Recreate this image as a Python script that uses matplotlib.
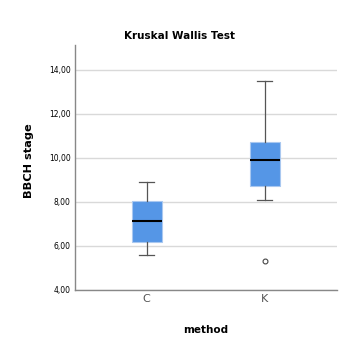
import matplotlib
matplotlib.use('Agg')
import matplotlib.pyplot as plt

# Box statistics
methods = ['C', 'K']
whisker_low = [5.59, 8.10]
q1 = [6.18, 8.73]
medians = [7.14, 9.91]
q3 = [8.06, 10.70]
whisker_high = [8.90, 13.51]
outliers = [[], [5.29]]

y_ticks = [4, 6, 8, 10, 12, 14]
y_tick_labels = ['4,00', '6,00', '8,00', '10,00', '12,00', '14,00']

stats = []
for i, m in enumerate(methods):
    stats.append({
        'label': m,
        'whislo': whisker_low[i],
        'q1': q1[i],
        'med': medians[i],
        'q3': q3[i],
        'whishi': whisker_high[i],
        'fliers': outliers[i],
    })

fig = plt.figure(figsize=(3.61, 3.61), dpi=100)
ax = fig.add_axes([0.207, 0.197, 0.726, 0.678])

ax.bxp(stats, positions=[1, 2], widths=0.254, patch_artist=True,
       boxprops=dict(facecolor='#5596e6', edgecolor='#a9c8f0', linewidth=0.8),
       medianprops=dict(color='black', linewidth=1.5),
       whiskerprops=dict(color='#555555', linewidth=0.9),
       capprops=dict(color='#555555', linewidth=0.9),
       flierprops=dict(marker='o', markersize=3.5, markerfacecolor='white',
                       markeredgecolor='#444444', markeredgewidth=0.8),
       capwidths=0.13, zorder=3)

ax.set_xlim(0.39, 2.61)
ax.set_ylim(4, 15.12)
ax.set_yticks(y_ticks)
ax.set_yticklabels(y_tick_labels, fontsize=5.5)
ax.set_xticks([1, 2])
ax.set_xticklabels(methods, fontsize=8, color='#555555')
ax.tick_params(length=0, pad=3)
ax.grid(axis='y', color='#d9d9d9', linewidth=1.0, zorder=0)
ax.set_axisbelow(True)

for s in ['top', 'right']:
    ax.spines[s].set_visible(False)
for s in ['left', 'bottom']:
    ax.spines[s].set_color('#888888')
    ax.spines[s].set_linewidth(1.0)

ax.set_ylabel('BBCH stage', fontsize=8.2, fontweight='bold')
ax.yaxis.set_label_coords(-0.155, 0.527)
ax.set_xlabel('method', fontsize=7.5, fontweight='bold')
ax.xaxis.set_label_coords(0.499, -0.143)
fig.text(0.498, 0.901, 'Kruskal Wallis Test', fontsize=7.5, fontweight='bold',
         ha='center', va='center')

fig.savefig('out.png', dpi=100)
